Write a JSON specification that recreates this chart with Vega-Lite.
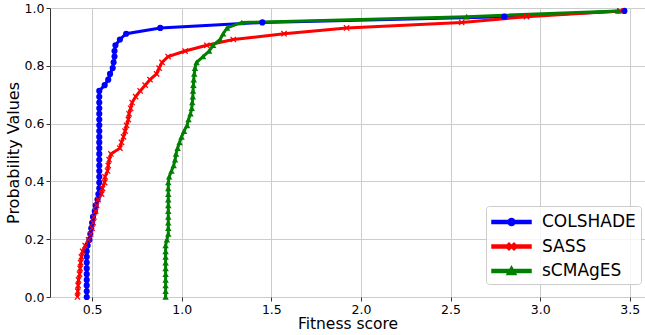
{
  "$schema": "https://vega.github.io/schema/vega-lite/v6.json",
  "width": 595,
  "height": 289,
  "autosize": {"type": "none"},
  "padding": {"left": 50, "top": 8, "right": 0, "bottom": 38},
  "background": "white",
  "config": {
    "font": "DejaVu Sans",
    "view": {"stroke": "#333333", "strokeWidth": 1},
    "axis": {
      "domain": false,
      "gridColor": "#cccccc",
      "gridWidth": 1,
      "tickColor": "#333333",
      "tickSize": 4,
      "labelColor": "#000000",
      "labelFontSize": 12.5,
      "labelPadding": 2,
      "titleColor": "#000000",
      "titleFontSize": 15.5,
      "titleFontWeight": "normal"
    }
  },
  "data": {
    "values": [
      {"method": "COLSHADE", "prob": 0, "score": 0.47},
      {"method": "COLSHADE", "prob": 0.02, "score": 0.47},
      {"method": "COLSHADE", "prob": 0.04, "score": 0.47},
      {"method": "COLSHADE", "prob": 0.059, "score": 0.47},
      {"method": "COLSHADE", "prob": 0.079, "score": 0.47},
      {"method": "COLSHADE", "prob": 0.099, "score": 0.47},
      {"method": "COLSHADE", "prob": 0.119, "score": 0.47},
      {"method": "COLSHADE", "prob": 0.139, "score": 0.47},
      {"method": "COLSHADE", "prob": 0.158, "score": 0.47},
      {"method": "COLSHADE", "prob": 0.178, "score": 0.475},
      {"method": "COLSHADE", "prob": 0.198, "score": 0.485},
      {"method": "COLSHADE", "prob": 0.218, "score": 0.49},
      {"method": "COLSHADE", "prob": 0.238, "score": 0.495},
      {"method": "COLSHADE", "prob": 0.257, "score": 0.5},
      {"method": "COLSHADE", "prob": 0.277, "score": 0.505},
      {"method": "COLSHADE", "prob": 0.297, "score": 0.515},
      {"method": "COLSHADE", "prob": 0.317, "score": 0.52},
      {"method": "COLSHADE", "prob": 0.337, "score": 0.53},
      {"method": "COLSHADE", "prob": 0.356, "score": 0.535},
      {"method": "COLSHADE", "prob": 0.376, "score": 0.54},
      {"method": "COLSHADE", "prob": 0.396, "score": 0.54},
      {"method": "COLSHADE", "prob": 0.416, "score": 0.54},
      {"method": "COLSHADE", "prob": 0.436, "score": 0.54},
      {"method": "COLSHADE", "prob": 0.455, "score": 0.54},
      {"method": "COLSHADE", "prob": 0.475, "score": 0.54},
      {"method": "COLSHADE", "prob": 0.495, "score": 0.54},
      {"method": "COLSHADE", "prob": 0.515, "score": 0.54},
      {"method": "COLSHADE", "prob": 0.535, "score": 0.54},
      {"method": "COLSHADE", "prob": 0.554, "score": 0.54},
      {"method": "COLSHADE", "prob": 0.574, "score": 0.54},
      {"method": "COLSHADE", "prob": 0.594, "score": 0.54},
      {"method": "COLSHADE", "prob": 0.614, "score": 0.54},
      {"method": "COLSHADE", "prob": 0.634, "score": 0.54},
      {"method": "COLSHADE", "prob": 0.653, "score": 0.54},
      {"method": "COLSHADE", "prob": 0.673, "score": 0.54},
      {"method": "COLSHADE", "prob": 0.693, "score": 0.54},
      {"method": "COLSHADE", "prob": 0.713, "score": 0.54},
      {"method": "COLSHADE", "prob": 0.733, "score": 0.57},
      {"method": "COLSHADE", "prob": 0.752, "score": 0.59},
      {"method": "COLSHADE", "prob": 0.772, "score": 0.6},
      {"method": "COLSHADE", "prob": 0.792, "score": 0.615},
      {"method": "COLSHADE", "prob": 0.812, "score": 0.62},
      {"method": "COLSHADE", "prob": 0.832, "score": 0.625},
      {"method": "COLSHADE", "prob": 0.851, "score": 0.625},
      {"method": "COLSHADE", "prob": 0.871, "score": 0.63},
      {"method": "COLSHADE", "prob": 0.891, "score": 0.655},
      {"method": "COLSHADE", "prob": 0.911, "score": 0.69},
      {"method": "COLSHADE", "prob": 0.931, "score": 0.88},
      {"method": "COLSHADE", "prob": 0.95, "score": 1.45},
      {"method": "COLSHADE", "prob": 0.97, "score": 2.8},
      {"method": "COLSHADE", "prob": 0.99, "score": 3.47},
      {"method": "SASS", "prob": 0, "score": 0.418},
      {"method": "SASS", "prob": 0.02, "score": 0.42},
      {"method": "SASS", "prob": 0.04, "score": 0.422},
      {"method": "SASS", "prob": 0.059, "score": 0.424},
      {"method": "SASS", "prob": 0.079, "score": 0.43},
      {"method": "SASS", "prob": 0.099, "score": 0.433},
      {"method": "SASS", "prob": 0.119, "score": 0.436},
      {"method": "SASS", "prob": 0.139, "score": 0.44},
      {"method": "SASS", "prob": 0.158, "score": 0.447},
      {"method": "SASS", "prob": 0.178, "score": 0.461},
      {"method": "SASS", "prob": 0.198, "score": 0.48},
      {"method": "SASS", "prob": 0.218, "score": 0.492},
      {"method": "SASS", "prob": 0.238, "score": 0.5},
      {"method": "SASS", "prob": 0.257, "score": 0.506},
      {"method": "SASS", "prob": 0.277, "score": 0.51},
      {"method": "SASS", "prob": 0.297, "score": 0.52},
      {"method": "SASS", "prob": 0.317, "score": 0.525},
      {"method": "SASS", "prob": 0.337, "score": 0.533},
      {"method": "SASS", "prob": 0.356, "score": 0.553},
      {"method": "SASS", "prob": 0.376, "score": 0.558},
      {"method": "SASS", "prob": 0.396, "score": 0.57},
      {"method": "SASS", "prob": 0.416, "score": 0.572},
      {"method": "SASS", "prob": 0.436, "score": 0.586},
      {"method": "SASS", "prob": 0.455, "score": 0.59},
      {"method": "SASS", "prob": 0.475, "score": 0.595},
      {"method": "SASS", "prob": 0.495, "score": 0.605},
      {"method": "SASS", "prob": 0.515, "score": 0.655},
      {"method": "SASS", "prob": 0.535, "score": 0.664},
      {"method": "SASS", "prob": 0.554, "score": 0.675},
      {"method": "SASS", "prob": 0.574, "score": 0.684},
      {"method": "SASS", "prob": 0.594, "score": 0.692},
      {"method": "SASS", "prob": 0.614, "score": 0.702},
      {"method": "SASS", "prob": 0.634, "score": 0.706},
      {"method": "SASS", "prob": 0.653, "score": 0.715},
      {"method": "SASS", "prob": 0.673, "score": 0.723},
      {"method": "SASS", "prob": 0.693, "score": 0.743},
      {"method": "SASS", "prob": 0.713, "score": 0.768},
      {"method": "SASS", "prob": 0.733, "score": 0.796},
      {"method": "SASS", "prob": 0.752, "score": 0.823},
      {"method": "SASS", "prob": 0.772, "score": 0.86},
      {"method": "SASS", "prob": 0.792, "score": 0.874},
      {"method": "SASS", "prob": 0.812, "score": 0.89},
      {"method": "SASS", "prob": 0.832, "score": 0.924},
      {"method": "SASS", "prob": 0.851, "score": 1.019},
      {"method": "SASS", "prob": 0.871, "score": 1.14},
      {"method": "SASS", "prob": 0.891, "score": 1.288},
      {"method": "SASS", "prob": 0.911, "score": 1.571},
      {"method": "SASS", "prob": 0.931, "score": 1.92},
      {"method": "SASS", "prob": 0.95, "score": 2.562},
      {"method": "SASS", "prob": 0.97, "score": 2.924},
      {"method": "SASS", "prob": 0.99, "score": 3.445},
      {"method": "sCMAgES", "prob": 0, "score": 0.91},
      {"method": "sCMAgES", "prob": 0.02, "score": 0.91},
      {"method": "sCMAgES", "prob": 0.04, "score": 0.91},
      {"method": "sCMAgES", "prob": 0.059, "score": 0.91},
      {"method": "sCMAgES", "prob": 0.079, "score": 0.91},
      {"method": "sCMAgES", "prob": 0.099, "score": 0.91},
      {"method": "sCMAgES", "prob": 0.119, "score": 0.91},
      {"method": "sCMAgES", "prob": 0.139, "score": 0.91},
      {"method": "sCMAgES", "prob": 0.158, "score": 0.91},
      {"method": "sCMAgES", "prob": 0.178, "score": 0.91},
      {"method": "sCMAgES", "prob": 0.198, "score": 0.917},
      {"method": "sCMAgES", "prob": 0.218, "score": 0.925},
      {"method": "sCMAgES", "prob": 0.238, "score": 0.925},
      {"method": "sCMAgES", "prob": 0.257, "score": 0.925},
      {"method": "sCMAgES", "prob": 0.277, "score": 0.925},
      {"method": "sCMAgES", "prob": 0.297, "score": 0.925},
      {"method": "sCMAgES", "prob": 0.317, "score": 0.925},
      {"method": "sCMAgES", "prob": 0.337, "score": 0.925},
      {"method": "sCMAgES", "prob": 0.356, "score": 0.925},
      {"method": "sCMAgES", "prob": 0.376, "score": 0.925},
      {"method": "sCMAgES", "prob": 0.396, "score": 0.925},
      {"method": "sCMAgES", "prob": 0.416, "score": 0.93},
      {"method": "sCMAgES", "prob": 0.436, "score": 0.943},
      {"method": "sCMAgES", "prob": 0.455, "score": 0.955},
      {"method": "sCMAgES", "prob": 0.475, "score": 0.963},
      {"method": "sCMAgES", "prob": 0.495, "score": 0.968},
      {"method": "sCMAgES", "prob": 0.515, "score": 0.977},
      {"method": "sCMAgES", "prob": 0.535, "score": 0.988},
      {"method": "sCMAgES", "prob": 0.554, "score": 0.999},
      {"method": "sCMAgES", "prob": 0.574, "score": 1.013},
      {"method": "sCMAgES", "prob": 0.594, "score": 1.03},
      {"method": "sCMAgES", "prob": 0.614, "score": 1.038},
      {"method": "sCMAgES", "prob": 0.634, "score": 1.049},
      {"method": "sCMAgES", "prob": 0.653, "score": 1.056},
      {"method": "sCMAgES", "prob": 0.673, "score": 1.059},
      {"method": "sCMAgES", "prob": 0.693, "score": 1.062},
      {"method": "sCMAgES", "prob": 0.713, "score": 1.063},
      {"method": "sCMAgES", "prob": 0.733, "score": 1.065},
      {"method": "sCMAgES", "prob": 0.752, "score": 1.067},
      {"method": "sCMAgES", "prob": 0.772, "score": 1.07},
      {"method": "sCMAgES", "prob": 0.792, "score": 1.074},
      {"method": "sCMAgES", "prob": 0.812, "score": 1.083},
      {"method": "sCMAgES", "prob": 0.832, "score": 1.119},
      {"method": "sCMAgES", "prob": 0.851, "score": 1.153},
      {"method": "sCMAgES", "prob": 0.871, "score": 1.175},
      {"method": "sCMAgES", "prob": 0.891, "score": 1.214},
      {"method": "sCMAgES", "prob": 0.911, "score": 1.231},
      {"method": "sCMAgES", "prob": 0.931, "score": 1.253},
      {"method": "sCMAgES", "prob": 0.95, "score": 1.335},
      {"method": "sCMAgES", "prob": 0.97, "score": 2.59},
      {"method": "sCMAgES", "prob": 0.99, "score": 3.435}
    ]
  },
  "encoding": {
    "x": {
      "field": "score",
      "type": "quantitative",
      "scale": {"domain": [0.265, 3.585], "nice": false, "zero": false},
      "axis": {"values": [0.5, 1, 1.5, 2, 2.5, 3, 3.5], "format": ".1f", "title": "Fitness score", "titlePadding": 1}
    },
    "y": {
      "field": "prob",
      "type": "quantitative",
      "scale": {"domain": [0, 1], "nice": false},
      "axis": {"values": [0, 0.2, 0.4, 0.6, 0.8, 1], "format": ".1f", "title": "Probability Values", "titlePadding": 3, "titleFontSize": 16}
    }
  },
  "layer": [
    {
      "mark": {"type": "line", "strokeWidth": 3, "clip": false},
      "encoding": {
        "color": {"field": "method", "type": "nominal", "scale": {"domain": ["COLSHADE", "SASS", "sCMAgES"], "range": ["#0000ff", "#ff0000", "#008000"]}},
        "order": {"field": "prob", "type": "quantitative"}
      }
    },
    {
      "transform": [{"filter": "datum.method === 'COLSHADE'"}],
      "mark": {"type": "point", "shape": "circle", "filled": true, "size": 38, "opacity": 1, "color": "#0000ff"}
    },
    {
      "transform": [{"filter": "datum.method === 'SASS'"}],
      "mark": {"type": "point", "shape": "M-1,-1L1,1M-1,1L1,-1", "filled": false, "size": 28, "strokeWidth": 1.3, "opacity": 1, "color": "#ff0000"}
    },
    {
      "transform": [{"filter": "datum.method === 'sCMAgES'"}],
      "mark": {"type": "point", "shape": "triangle-up", "filled": true, "size": 42, "opacity": 1, "color": "#008000"}
    },
    {
      "mark": {"type": "point", "filled": true, "opacity": 0, "size": 400},
      "encoding": {
        "color": {
          "field": "method",
          "type": "nominal",
          "legend": {
            "title": null,
            "orient": "none",
            "legendX": 436,
            "legendY": 198,
            "padding": 5,
            "fillColor": "rgba(255,255,255,0.8)",
            "strokeColor": "#cccccc",
            "cornerRadius": 3,
            "labelFontSize": 17,
            "labelColor": "#000000",
            "labelOffset": 29,
            "symbolSize": 400,
            "symbolOpacity": 1,
            "rowPadding": 5.5
          }
        },
        "shape": {
          "field": "method",
          "type": "nominal",
          "scale": {
            "domain": ["COLSHADE", "SASS", "sCMAgES"],
            "range": [
              "M-1,-0.15L2.9,-0.15L2.9,0.15L-1,0.15Z M1.3,0A0.35,0.35 0 1,1 0.6,0A0.35,0.35 0 1,1 1.3,0Z",
              "M-1,-0.15L2.9,-0.15L2.9,0.15L-1,0.15Z M0.7,-0.35L1.3,0.25L1.2,0.35L0.6,-0.25Z M0.6,0.25L1.2,-0.35L1.3,-0.25L0.7,0.35Z",
              "M-1,-0.15L2.9,-0.15L2.9,0.15L-1,0.15Z M0.95,-0.45L1.4,0.35L0.5,0.35Z"
            ]
          },
          "legend": {
            "title": null,
            "orient": "none",
            "legendX": 436,
            "legendY": 198,
            "padding": 5,
            "fillColor": "rgba(255,255,255,0.8)",
            "strokeColor": "#cccccc",
            "cornerRadius": 3,
            "labelFontSize": 17,
            "labelColor": "#000000",
            "labelOffset": 29,
            "symbolSize": 400,
            "symbolOpacity": 1,
            "rowPadding": 5.5
          }
        }
      }
    }
  ]
}
